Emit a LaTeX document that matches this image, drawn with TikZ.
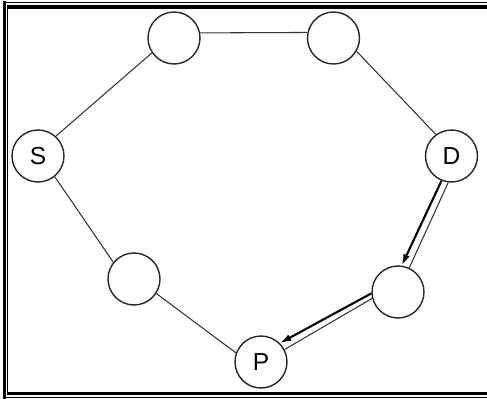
\documentclass[tikz,border=0pt]{standalone}
\usepackage{fontspec}
\setmainfont{Liberation Sans}
\usetikzlibrary{arrows.meta}

\begin{document}
\begin{tikzpicture}[
    x=0.02cm, y=-0.02cm,
    font=\fontsize{14}{16}\selectfont,
    vertex/.style={circle, draw=black!85, line width=0.8pt, minimum size=1.04cm, inner sep=0pt},
    edge/.style={draw=black!80, line width=0.6pt},
    walk/.style={-{Latex[length=6.5pt,width=4pt]}, line width=1.2pt},
    rimthin/.style={line width=0.75pt},
    rimthick/.style={line width=1.9pt}
]
\useasboundingbox (0,0) rectangle (487,399);
% frame
\draw[rimthin] (3,2.7) -- (487,2.7);
\draw[rimthin] (3,397.5) -- (487,397.5);
\draw[rimthick] (4.5,1.5) -- (4.5,399);
\draw[rimthick] (7,7) -- (487,7);
\draw[rimthick] (7,393.5) -- (487,393.5);
\draw[rimthin] (7.7,5) -- (7.7,395);
% vertices
\node[vertex] (tl) at (174,38) {};
\node[vertex] (tr) at (333.5,38) {};
\node[vertex] (s) at (38,156) {S};
\node[vertex] (d) at (451.5,156) {D};
\node[vertex] (ll) at (134,279) {};
\node[vertex] (lr) at (398,292) {};
\node[vertex] (p) at (261,362) {P};
% edges
\draw[edge] (s.48) -- (tl.214);
\draw[edge] (tl.11) -- (tr.168);
\draw[edge] (tr.-30) -- (d.126);
\draw[edge] (s.-51) -- (ll.141);
\draw[edge] (ll.-33) -- (p.160);
% path D -> P
\draw[edge] (d.-97) -- (lr.65);
\draw[walk] (d.-112) -- (lr.82);
\draw[edge] (lr.-166) -- (p.28);
\draw[walk] (lr.-177) -- (p.45);
\end{tikzpicture}
\end{document}
